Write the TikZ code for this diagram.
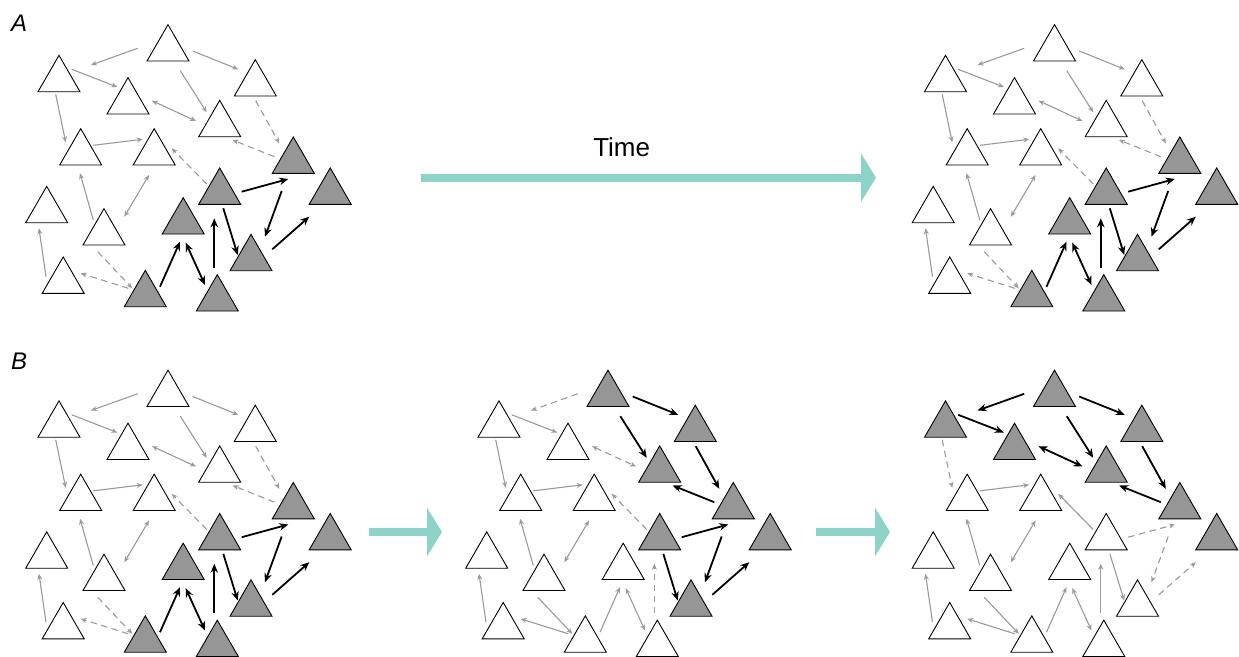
\documentclass[tikz,border=0pt]{standalone}
\usepackage{fontspec}
\setmainfont{Liberation Sans}
\usetikzlibrary{calc, arrows.meta, shapes.geometric}

\definecolor{shade}{HTML}{969696}
\definecolor{wire}{HTML}{9A9A9A}
\definecolor{flow}{HTML}{8DD3C7}

% places of the 17 actors in one network
\def\layout{1/168/48.9, 2/59/79.6, 3/128/101.9, 4/255.3/83.9, 5/219.7/124.6,
  6/80.7/152.9, 7/154.2/152.9, 8/293.3/161.2, 9/219.7/192.2, 10/330.2/192.2,
  11/46.7/210.6, 12/104/232.9, 13/183.2/221.9, 14/251/258.6, 15/63.2/281.2,
  16/145.3/294.6, 17/217.3/298.9}
% ties: from/to/tips/start offset/end offset
\def\wiring{1/2/fwd/-30.3/-0.6/32/-14.6, 1/4/fwd/24.7/2.1/-17/-14.6,
  1/5/fwd/12.3/21.8/-13/-12.3, 2/3/fwd/12.7/-10.3/-10.7/-14.9,
  2/6/fwd/-3.3/14.7/-15/-10.6, 3/5/bid/24/-1.2/-23.7/-3.6,
  4/8/fwd/0.4/16.8/-14/-17.9, 8/5/fwd/-19/-4.5/13/15.4,
  6/7/fwd/12.6/-7.6/-11.5/-13.6, 9/7/fwd/-13/-8.2/17.5/-4.6,
  12/6/fwd/-10.7/-12.9/-0.7/20.4, 12/7/bid/20.3/-16.2/-5.2/22.1,
  15/11/fwd/-17.2/-4.5/-7.7/17.7, 12/16/fwd/-6.3/18.8/-13/-6.3,
  16/15/fwd/-17/-6.3/17.5/-7.9, 16/13/fwd/14.7/-7.9/-3.2/19.8,
  13/17/bid/2.5/20.8/-12.3/-13.9, 17/9/fwd/-3/-31.2/-5.4/26.1,
  9/14/fwd/3.6/16.1/-13.3/-3.6, 9/8/fwd/22/-0.5/-5/17.8,
  8/14/fwd/-11.6/29.8/14/-21.9, 14/10/fwd/21.3/-9.3/-20.9/24.5}
% who has adopted
\def\adoptfirst{0,0,0,0,0,0,0,1,1,1,0,0,1,1,0,1,1}
\def\adoptmid{1,0,0,1,1,0,0,1,1,1,0,0,0,1,0,0,0}
\def\adoptlast{1,1,1,1,1,0,0,1,0,1,0,0,0,0,0,0,0}

\tikzset{
  tri/.style={draw=black, line width=0.9pt, regular polygon, regular polygon sides=3,
    minimum size=48.5pt, inner sep=0pt, outer sep=0pt},
  state0/.style={tri, fill=white},
  state1/.style={tri, fill=shade},
  link0/.style={draw=wire, line width=1.1pt, >={Stealth[length=6pt, width=5pt]}},
  link1/.style={link0, dash pattern=on 6.5pt off 4.5pt},
  link2/.style={draw=black, line width=1.8pt, >={Stealth[length=9pt, width=7.5pt]}},
  fwd/.style={->},
  bid/.style={<->},
  flowarrow/.style={draw=flow, line width=8pt, -{Triangle[length=15pt, width=48pt]}}
}

\begin{document}
\begin{tikzpicture}[x=1pt, y=-1pt]
\useasboundingbox (0,0) rectangle (1239,656);

\foreach \net/\ox/\oy/\st in {Astart/0/0/\adoptfirst, Aend/886.5/0/\adoptfirst,
  Bstart/0/345.5/\adoptfirst, Bmid/440/345.5/\adoptmid, Bend/886.5/345.5/\adoptlast}{
  \foreach \nd/\x/\y in \layout {
    \pgfmathtruncatemacro\lit{{\st}[\nd-1]}
    \node[state\lit] (\net\nd) at (\x+\ox,\y+\oy) {};
  }
  \foreach \src/\dst/\dir/\sx/\sy/\ex/\ey in \wiring {
    \pgfmathtruncatemacro\kind{{\st}[\src-1]+{\st}[\dst-1]}
    \draw[link\kind, \dir] ($(\net\src)+(\sx,\sy)$) -- ($(\net\dst)+(\ex,\ey)$);
  }
}

\node[font=\fontsize{24}{28}\selectfont\itshape, anchor=base west, inner sep=0pt] (tagA) at (11,31) {A};
\node[font=\fontsize{24}{28}\selectfont\itshape, anchor=base west, inner sep=0pt] (tagB) at (11,369.3) {B};

\coordinate (time0) at (421,177.7);
\coordinate (time1) at (876,177.7);
\draw[flowarrow] (time0) -- (time1);
\node[font=\fontsize{26}{30}\selectfont, anchor=base, inner sep=0pt] (time) at (621.7,156) {Time};

\coordinate (step0) at (369,532);
\coordinate (step1) at (442,532);
\coordinate (step2) at (816,532);
\coordinate (step3) at (890,532);
\draw[flowarrow] (step0) -- (step1);
\draw[flowarrow] (step2) -- (step3);
\end{tikzpicture}
\end{document}
